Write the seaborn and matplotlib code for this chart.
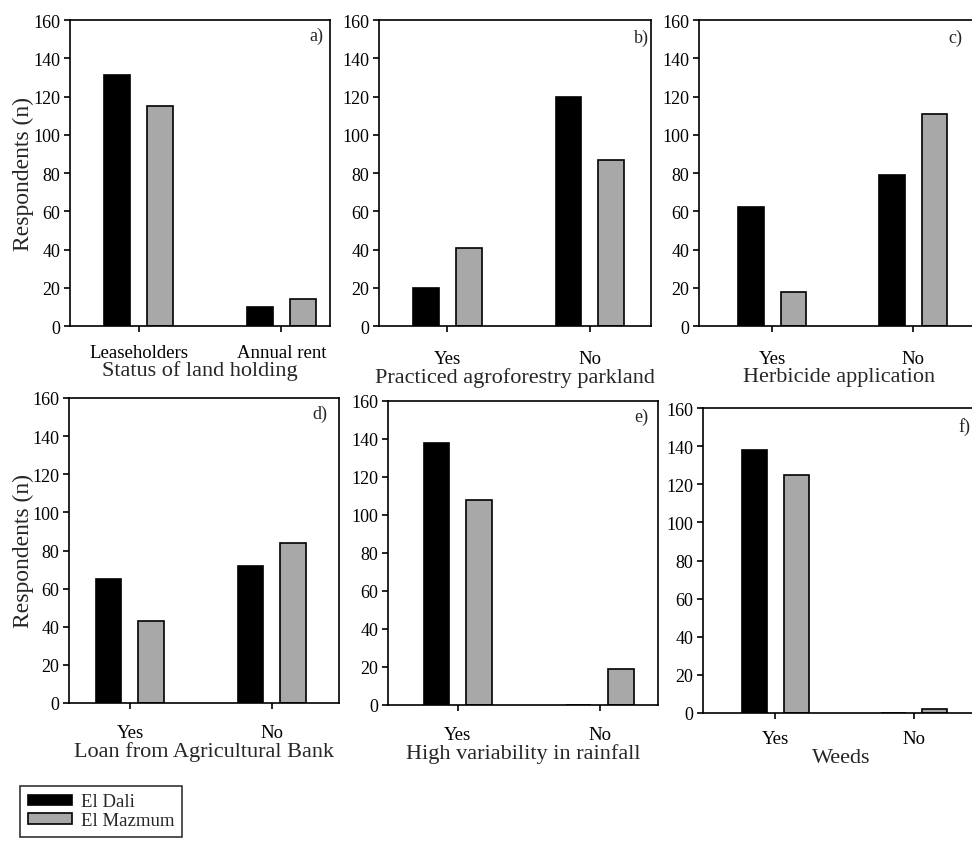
import matplotlib
matplotlib.use("Agg")
import matplotlib.pyplot as plt
import seaborn as sns
import pandas as pd

# data
sites = ['El Dali', 'El Mazmum']
colors = ['#000000', '#a8a8a8']

cats_a = ['Leaseholders', 'Annual rent']
dali_a = [131, 10]
mazmum_a = [115, 14]

cats_b = ['Yes', 'No']
dali_b = [20, 120]
mazmum_b = [41, 87]

cats_c = ['Yes', 'No']
dali_c = [62, 79]
mazmum_c = [18, 111]

cats_d = ['Yes', 'No']
dali_d = [65, 72]
mazmum_d = [43, 84]

cats_e = ['Yes', 'No']
dali_e = [138, 0]
mazmum_e = [108, 19]

cats_f = ['Yes', 'No']
dali_f = [138, 0]
mazmum_f = [125, 2]

xlabels = ['Status of land holding', 'Practiced agroforestry parkland',
           'Herbicide application', 'Loan from Agricultural Bank',
           'High variability in rainfall', 'Weeds']
letters = ['a)', 'b)', 'c)', 'd)', 'e)', 'f)']

sns.set_theme(style='ticks')
plt.rcParams['font.family'] = ['Liberation Serif', 'DejaVu Serif']

W, H = 972, 845
fig = plt.figure(figsize=(W / 100, H / 100), dpi=100)

# panel boxes in pixels: left, bottom, right, top
boxes = [(70, 327, 330, 21), (379, 327, 651, 21), (699, 327, 980, 21),
         (69, 704, 339, 399), (388, 706, 658, 402), (703, 714, 980, 409)]
xlims = [(-0.48, 1.34), (-0.48, 1.43), (-0.52, 1.475),
         (-0.43, 1.475), (-0.49, 1.41), (-0.52, 1.475)]
tick_pads = [9, 13, 13, 11, 11, 8]
label_pads = [-1, 0, 0, 0, 0, 1]
letter_pos = [(323, 28), (649, 30), (962, 30), (327, 406), (648, 409), (970, 418)]

panels = [(cats_a, dali_a, mazmum_a), (cats_b, dali_b, mazmum_b),
          (cats_c, dali_c, mazmum_c), (cats_d, dali_d, mazmum_d),
          (cats_e, dali_e, mazmum_e), (cats_f, dali_f, mazmum_f)]

for i, (cats, dali, maz) in enumerate(panels):
    l, b, r, t = boxes[i]
    ax = fig.add_axes([l / W, 1 - b / H, (r - l) / W, (b - t) / H])
    df = pd.DataFrame({'cat': cats * 2, 'n': dali + maz,
                       'site': [sites[0]] * 2 + [sites[1]] * 2})
    sns.barplot(data=df, x='cat', y='n', hue='site', palette=colors,
                width=0.6, gap=0.4, edgecolor='black', linewidth=1.2,
                ax=ax, legend=(i == 0))
    ax.set_ylim(0, 160)
    ax.set_yticks(range(0, 161, 20))
    ax.set_xlim(*xlims[i])
    for s in ax.spines.values():
        s.set_visible(True)
        s.set_color('black')
        s.set_linewidth(1.2)
    ax.tick_params(axis='both', direction='out', length=4, width=1.2,
                   colors='black')
    ax.tick_params(axis='x', pad=tick_pads[i], labelsize=13.5)
    ax.tick_params(axis='y', pad=3, labelsize=13)
    ax.set_xlabel(xlabels[i], fontsize=16, labelpad=label_pads[i])
    if i in (0, 3):
        ax.set_ylabel('Respondents (n)', fontsize=17)
        ax.yaxis.set_label_coords((34 - l) / (r - l), 0.5)
    else:
        ax.set_ylabel('')
    lx, ly = letter_pos[i]
    fig.text(lx / W, 1 - ly / H, letters[i], ha='right', va='top', fontsize=13)
    if i == 0:
        handles, labels = ax.get_legend_handles_labels()
        ax.get_legend().remove()

leg = fig.legend(handles, labels, loc='upper left',
                 bbox_to_anchor=(20 / W, 1 - 787 / H), frameon=True,
                 fancybox=False, edgecolor='black', fontsize=13.5,
                 handlelength=2.35, handleheight=0.5, borderpad=0.4,
                 labelspacing=0.1, handletextpad=0.5, borderaxespad=0)
leg.get_frame().set_linewidth(1.2)

fig.savefig('out.png', dpi=100)
